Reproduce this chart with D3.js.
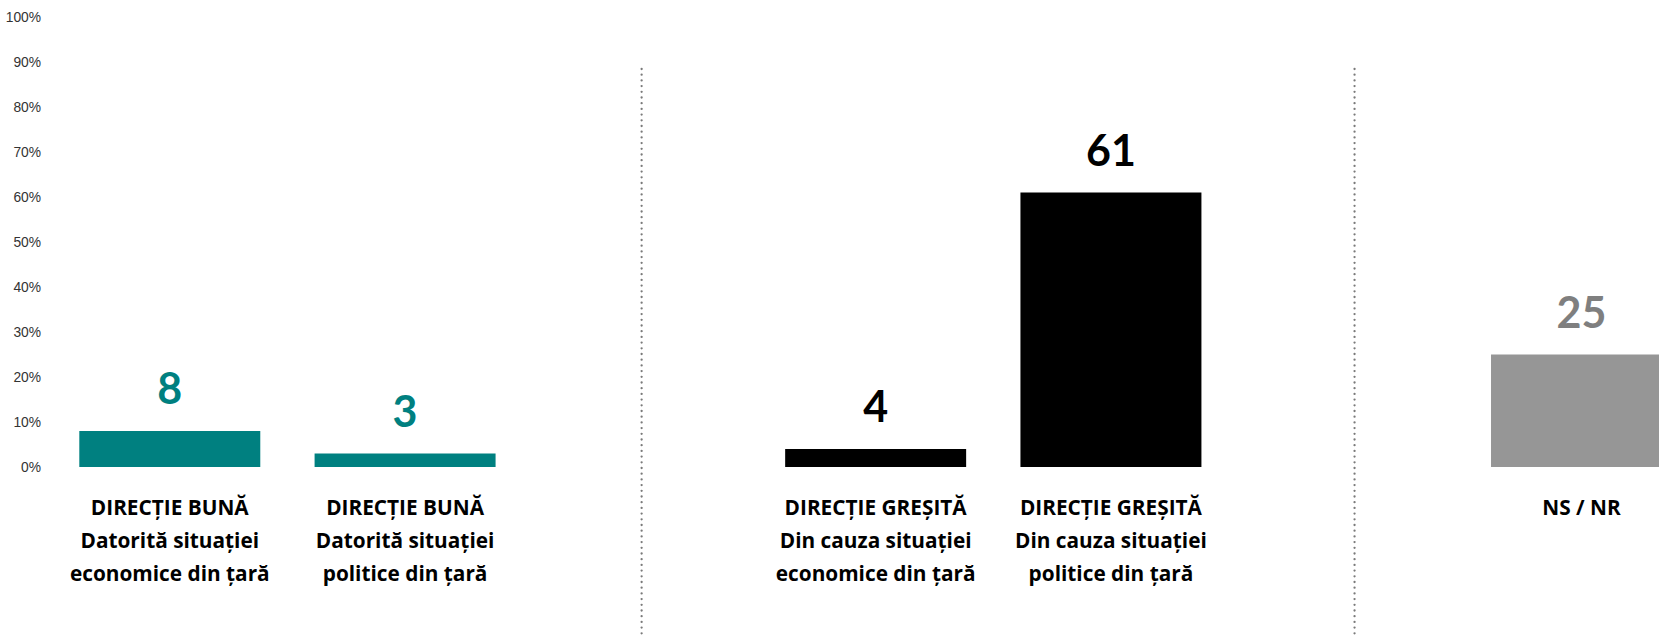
<!DOCTYPE html>
<html>
<head>
<meta charset="utf-8">
<script src="https://cdn.jsdelivr.net/npm/d3@7"></script>
<style>
  html, body { margin: 0; padding: 0; background: #fff; overflow: hidden; }
  svg { display: block; }
</style>
</head>
<body>
<svg id="chart"></svg>
<script>
const width = 1659;
const height = 635;

// data
const groups = ['bun', 'gresit', 'ns'];
const categories = ['bun-econ', 'bun-pol', 'gresit-econ', 'gresit-pol', 'ns-nr'];
const categoryGroup = ['bun', 'bun', 'gresit', 'gresit', 'ns'];
const values = [8, 3, 4, 61, 25];
const labelLines = [
    ['DIRECȚIE BUNĂ', 'Datorită situației', 'economice din țară'],
    ['DIRECȚIE BUNĂ', 'Datorită situației', 'politice din țară'],
    ['DIRECȚIE GREȘITĂ', 'Din cauza situației', 'economice din țară'],
    ['DIRECȚIE GREȘITĂ', 'Din cauza situației', 'politice din țară'],
    ['NS / NR']
];
const yTicks = [0, 10, 20, 30, 40, 50, 60, 70, 80, 90, 100];
// dividers sit between groups, in units of slot steps
const dividerSlots = [2.39, 5.42];

const barColor = {bun: '#008080', gresit: '#000000', ns: '#969696'};
const valueColor = {bun: '#008080', gresit: '#000000', ns: '#7f7f7f'};

const svg = d3.select('#chart')
    .attr('width', width)
    .attr('height', height);

// build slot domain: categories with an empty slot between groups
let slotDomain = [];
groups.forEach((g, gi) => {
    if (gi > 0) slotDomain.push('gap-' + gi);
    categories.forEach((c, i) => { if (categoryGroup[i] == g) slotDomain.push(c); });
});

const x = d3.scaleBand()
    .domain(slotDomain)
    .range([79.3, 1672])
    .paddingInner(0.2308)
    .paddingOuter(0)
    .align(0);

const y = d3.scaleLinear().domain([0, 100]).range([467, 17]);

// y axis, labels only
const yAxis = svg.append('g')
    .attr('transform', 'translate(41, 0)')
    .call(d3.axisLeft(y).tickValues(yTicks).tickFormat(d => d + '%').tickSize(0).tickPadding(0));
yAxis.select('.domain').remove();
yAxis.selectAll('text')
    .attr('font-family', '"Liberation Sans", Arial, sans-serif')
    .attr('font-size', 13.8)
    .attr('fill', '#333');

// dotted dividers
const slotPos = d3.scaleLinear().domain([0, 1]).range([x(slotDomain[0]), x(slotDomain[0]) + x.step()]);
svg.selectAll('.divider').data(dividerSlots)
    .enter()
    .append('line')
    .attr('class', 'divider')
    .attr('x1', d => slotPos(d))
    .attr('x2', d => slotPos(d))
    .attr('y1', 69)
    .attr('y2', height)
    .attr('stroke', '#7a7a7a')
    .attr('stroke-width', 2.3)
    .attr('stroke-linecap', 'round')
    .attr('stroke-dasharray', '0 5.7');

const bars = categories.map((c, i) => ({cat: c, group: categoryGroup[i], value: values[i], lines: labelLines[i]}));

svg.selectAll('rect.bar').data(bars)
    .enter()
    .append('rect')
    .attr('class', 'bar')
    .attr('x', d => x(d.cat))
    .attr('y', d => y(d.value))
    .attr('width', x.bandwidth())
    .attr('height', d => y(0) - y(d.value))
    .attr('fill', d => barColor[d.group]);

svg.selectAll('text.value').data(bars)
    .enter()
    .append('text')
    .attr('class', 'value')
    .attr('x', d => x(d.cat) + x.bandwidth() / 2)
    .attr('y', d => y(d.value) - 27)
    .attr('text-anchor', 'middle')
    .attr('font-family', 'Lato, "Open Sans", sans-serif')
    .attr('font-weight', 'bold')
    .attr('font-size', 43)
    .attr('fill', d => valueColor[d.group])
    .text(d => d.value);

const catLabels = svg.selectAll('text.cat').data(bars)
    .enter()
    .append('text')
    .attr('class', 'cat')
    .attr('x', d => x(d.cat) + x.bandwidth() / 2)
    .attr('y', y(0) + 48)
    .attr('text-anchor', 'middle')
    .attr('font-family', '"Open Sans", Lato, sans-serif')
    .attr('font-weight', 'bold')
    .attr('font-size', 20.8)
    .attr('fill', '#000');

catLabels.selectAll('tspan').data(d => d.lines.map(l => ({line: l, cx: x(d.cat) + x.bandwidth() / 2})))
    .enter()
    .append('tspan')
    .attr('x', d => d.cx)
    .attr('dy', (d, i) => i == 0 ? 0 : 33)
    .text(d => d.line);
</script>
</body>
</html>
